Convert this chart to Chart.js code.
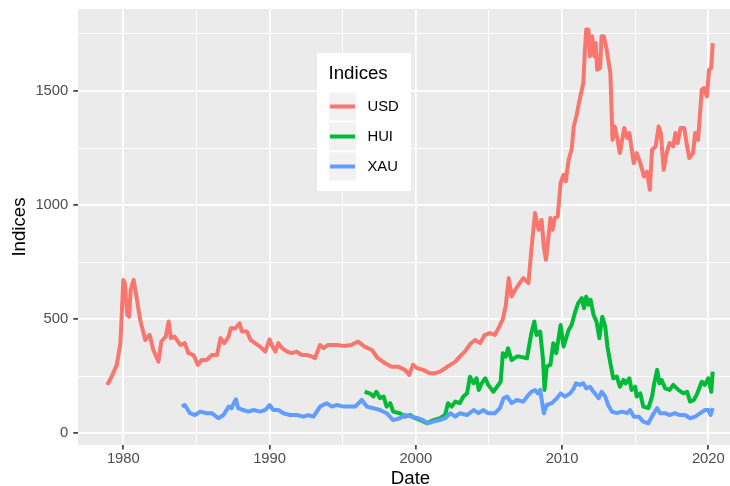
<!DOCTYPE html>
<html>
<head>
<meta charset="utf-8">
<script src="https://cdn.jsdelivr.net/npm/chart.js@4/dist/chart.umd.min.js"></script>
<style>
  html, body { margin: 0; padding: 0; background: #FFFFFF; overflow: hidden; }
  #wrap { width: 730px; height: 486px; overflow: hidden; position: relative; }
  canvas { display: block; }
</style>
</head>
<body>
<div id="wrap"><canvas id="c" width="745" height="500"></canvas></div>
<script>
// ---- Data ----
const seriesNames = ['USD', 'HUI', 'XAU'];
const legendTitle = 'Indices';
const xTitle = 'Date';
const yTitle = 'Indices';

const usdDates = [1978.9,1979.2,1979.55,1979.8,1980.0,1980.1,1980.27,1980.4,1980.5,1980.7,1980.9,1981.15,1981.5,1981.8,1982.05,1982.4,1982.6,1982.9,1983.1,1983.25,1983.5,1983.9,1984.2,1984.45,1984.8,1985.1,1985.35,1985.7,1986.05,1986.4,1986.65,1986.9,1987.2,1987.35,1987.65,1987.95,1988.1,1988.45,1988.7,1989.0,1989.35,1989.7,1990.0,1990.15,1990.4,1990.6,1990.85,1991.2,1991.5,1991.85,1992.2,1992.55,1992.9,1993.1,1993.45,1993.7,1994.0,1994.6,1995.05,1995.6,1996.05,1996.5,1997.0,1997.4,1997.9,1998.35,1998.8,1999.25,1999.55,1999.8,2000.1,2000.5,2000.95,2001.3,2001.65,2002.0,2002.35,2002.7,2003.0,2003.35,2003.7,2004.05,2004.4,2004.7,2005.05,2005.4,2005.65,2005.95,2006.15,2006.35,2006.55,2006.8,2007.1,2007.35,2007.7,2007.9,2008.15,2008.4,2008.6,2008.75,2008.9,2009.05,2009.2,2009.35,2009.5,2009.7,2009.9,2010.1,2010.25,2010.45,2010.65,2010.8,2011.0,2011.2,2011.45,2011.55,2011.65,2011.8,2011.9,2012.05,2012.2,2012.3,2012.4,2012.6,2012.7,2012.85,2013.05,2013.3,2013.45,2013.6,2013.75,2013.95,2014.25,2014.45,2014.6,2014.9,2015.1,2015.35,2015.6,2015.8,2016.0,2016.15,2016.4,2016.6,2016.75,2016.95,2017.15,2017.35,2017.6,2017.75,2017.9,2018.1,2018.35,2018.55,2018.7,2018.95,2019.1,2019.3,2019.55,2019.7,2019.9,2020.05,2020.2,2020.3];
const usdValues = [212,248,300,395,672,658,519,511,628,672,599,497,409,431,365,314,402,424,490,417,424,387,395,351,343,300,321,321,343,343,417,395,424,460,460,482,446,446,409,395,380,358,412,387,358,395,373,358,351,358,343,343,336,329,387,373,387,387,383,387,402,380,365,329,307,292,292,278,256,300,285,278,263,263,270,285,300,314,336,358,390,409,395,430,439,431,460,500,560,680,600,629,658,680,658,804,965,892,935,818,760,848,943,892,943,950,1096,1133,1104,1199,1243,1345,1396,1462,1535,1667,1769,1769,1652,1740,1652,1710,1593,1601,1740,1740,1681,1579,1286,1345,1301,1228,1338,1294,1316,1184,1228,1184,1125,1147,1067,1243,1257,1345,1316,1155,1228,1272,1257,1316,1272,1338,1338,1257,1206,1228,1316,1286,1506,1513,1476,1593,1601,1710];

const huiDates = [1996.5,1996.85,1997.1,1997.3,1997.55,1997.8,1998.0,1998.25,1998.45,1998.9,1999.25,1999.6,1999.95,2000.3,2000.75,2001.2,2001.65,2002.0,2002.2,2002.45,2002.7,2003.0,2003.25,2003.5,2003.7,2003.95,2004.15,2004.3,2004.5,2004.75,2004.95,2005.3,2005.55,2005.8,2005.95,2006.15,2006.3,2006.55,2006.9,2007.1,2007.6,2007.9,2008.1,2008.25,2008.5,2008.7,2008.8,2008.95,2009.2,2009.4,2009.6,2009.9,2010.1,2010.45,2010.65,2010.9,2011.1,2011.35,2011.5,2011.65,2011.8,2011.95,2012.15,2012.35,2012.55,2012.75,2012.95,2013.1,2013.3,2013.5,2013.75,2013.95,2014.2,2014.35,2014.6,2014.75,2015.0,2015.1,2015.35,2015.55,2015.9,2016.15,2016.3,2016.5,2016.65,2016.8,2017.05,2017.35,2017.6,2017.95,2018.3,2018.55,2018.75,2019.0,2019.2,2019.55,2019.75,2020.0,2020.2,2020.3];
const huiValues = [182,175,161,182,154,161,117,132,95,88,73,80,66,58,44,58,66,80,132,117,139,132,161,175,248,219,241,190,219,241,212,182,204,226,351,336,373,321,336,336,329,439,490,431,446,321,190,292,300,395,351,475,380,453,475,533,570,592,548,599,563,585,519,490,417,511,468,380,307,241,248,204,234,219,241,190,204,161,175,117,110,161,219,278,219,234,197,190,212,190,175,182,139,146,168,226,212,241,182,270];

const xauDates = [1984.0,1984.2,1984.55,1984.9,1985.25,1985.7,1986.05,1986.5,1986.85,1987.2,1987.4,1987.55,1987.7,1987.85,1988.2,1988.55,1988.9,1989.35,1989.7,1990.0,1990.25,1990.6,1990.95,1991.4,1991.85,1992.3,1992.65,1993.0,1993.45,1993.9,1994.25,1994.6,1995.05,1995.5,1995.85,1996.3,1996.65,1997.1,1997.55,1998.0,1998.45,1998.9,1999.25,1999.7,2000.15,2000.5,2000.8,2001.2,2001.65,2002.0,2002.35,2002.7,2003.0,2003.5,2003.95,2004.3,2004.6,2004.95,2005.4,2005.75,2006.0,2006.25,2006.55,2006.9,2007.35,2007.6,2007.9,2008.15,2008.35,2008.5,2008.75,2008.95,2009.3,2009.65,2009.9,2010.2,2010.55,2010.8,2010.95,2011.2,2011.45,2011.65,2011.9,2012.15,2012.5,2012.7,2012.95,2013.15,2013.4,2013.75,2014.1,2014.45,2014.65,2014.9,2015.25,2015.55,2015.9,2016.2,2016.5,2016.7,2017.05,2017.35,2017.7,2018.05,2018.4,2018.75,2019.1,2019.45,2019.75,2020.0,2020.15,2020.3];
const xauValues = [117,124,88,80,95,88,88,66,80,117,110,132,149,110,102,95,102,95,102,124,102,102,88,80,80,73,80,73,117,132,117,124,117,117,117,146,117,110,102,88,58,66,80,73,66,58,44,51,58,66,88,73,88,80,102,88,102,88,88,110,154,161,132,146,139,161,182,190,175,190,88,124,132,154,175,161,175,197,219,212,219,197,204,182,154,182,161,124,95,88,95,88,102,73,73,51,44,80,110,88,88,80,88,80,80,66,73,88,102,102,80,110];

const xTickValues = [1980,1985,1990,1995,2000,2005,2010,2015,2020];
const yTickValues = [0,250,500,750,1000,1250,1500,1750];
const seriesColors = ['#F8766D', '#00BA38', '#619CFF'];

// ---- Build ----
const toPts = (xs, ys) => xs.map((x, i) => ({ x: x, y: ys[i] }));
const seriesData = [toPts(usdDates, usdValues), toPts(huiDates, huiValues), toPts(xauDates, xauValues)];

const FONT = '"Liberation Sans", Arial, Helvetica, sans-serif';

const panelPlugin = {
  id: 'panelBg',
  beforeDraw(chart) {
    const c = chart.ctx, a = chart.chartArea;
    c.save();
    c.fillStyle = '#FFFFFF';
    c.fillRect(0, 0, chart.width, chart.height);
    c.fillStyle = '#EBEBEB';
    c.fillRect(a.left, a.top, a.right - a.left, a.bottom - a.top);
    c.restore();
  }
};

const legendPlugin = {
  id: 'ggLegend',
  afterDraw(chart) {
    const c = chart.ctx;
    c.save();
    c.fillStyle = '#FFFFFF';
    c.fillRect(317, 53, 94, 138);
    c.fillStyle = '#000000';
    c.font = '18.7px ' + FONT;
    c.textBaseline = 'alphabetic';
    c.textAlign = 'left';
    c.fillText(legendTitle, 328.5, 79);
    seriesNames.forEach((name, i) => {
      const y = 92.5 + i * 30;
      c.fillStyle = '#F2F2F2';
      c.fillRect(329, y, 27, 28);
      c.strokeStyle = seriesColors[i];
      c.lineWidth = 4;
      c.lineCap = 'butt';
      c.beginPath();
      c.moveTo(330, y + 14);
      c.lineTo(355, y + 14);
      c.stroke();
      c.fillStyle = '#000000';
      c.font = '14.8px ' + FONT;
      c.textBaseline = 'middle';
      c.fillText(name, 367.5, y + 14);
    });
    c.restore();
  }
};

const order = [2, 1, 0];
new Chart(document.getElementById('c').getContext('2d'), {
  type: 'line',
  data: {
    datasets: seriesNames.map((n, i) => ({
      label: n,
      data: seriesData[i],
      borderColor: seriesColors[i],
      backgroundColor: seriesColors[i],
      borderWidth: 4,
      pointRadius: 0,
      pointHoverRadius: 0,
      tension: 0,
      fill: false,
      borderJoinStyle: 'round',
      order: order[i]
    }))
  },
  options: {
    responsive: false,
    animation: false,
    devicePixelRatio: 1,
    events: [],
    layout: { padding: { top: 9, right: 2, left: 0, bottom: 0 } },
    plugins: { legend: { display: false }, tooltip: { enabled: false } },
    scales: {
      x: {
        type: 'linear',
        min: 1976.9,
        max: 2022.37,
        afterFit(s) { s.height = 55; s.paddingLeft = 0; s.paddingRight = 0; },
        afterBuildTicks(s) { s.ticks = xTickValues.map(v => ({ value: v })); },
        border: { display: false },
        grid: {
          color: '#FFFFFF',
          lineWidth: ctx => (ctx.tick && ctx.tick.value % 10 === 0) ? 1.8 : 0.9,
          drawTicks: true,
          tickLength: 4.5,
          tickWidth: 1.6,
          tickColor: ctx => (ctx.tick && ctx.tick.value % 10 === 0) ? '#333333' : 'rgba(0,0,0,0)'
        },
        ticks: {
          autoSkip: false,
          maxRotation: 0,
          padding: 1,
          color: '#4D4D4D',
          font: { family: FONT, size: 14.8 },
          callback: v => (v % 10 === 0 ? String(v) : '')
        },
        title: {
          display: true,
          text: xTitle,
          color: '#000000',
          font: { family: FONT, size: 18.7 },
          padding: { top: 0, bottom: 10.2 }
        }
      },
      y: {
        type: 'linear',
        min: -51.3,
        max: 1859.3,
        afterFit(s) { s.width = 78; s.paddingTop = 0; s.paddingBottom = 0; },
        afterBuildTicks(s) { s.ticks = yTickValues.map(v => ({ value: v })); },
        border: { display: false },
        grid: {
          color: '#FFFFFF',
          lineWidth: ctx => (ctx.tick && ctx.tick.value % 500 === 0) ? 1.8 : 0.9,
          drawTicks: true,
          tickLength: 4.7,
          tickWidth: 1.6,
          tickColor: ctx => (ctx.tick && ctx.tick.value % 500 === 0) ? '#333333' : 'rgba(0,0,0,0)'
        },
        ticks: {
          autoSkip: false,
          padding: 5,
          color: '#4D4D4D',
          font: { family: FONT, size: 14.8 },
          callback: v => (v % 500 === 0 ? String(v) : '')
        },
        title: {
          display: true,
          text: yTitle,
          color: '#000000',
          font: { family: FONT, size: 18.7 },
          padding: { top: 8.5, bottom: 0 }
        }
      }
    }
  },
  plugins: [panelPlugin, legendPlugin]
});
</script>
</body>
</html>
